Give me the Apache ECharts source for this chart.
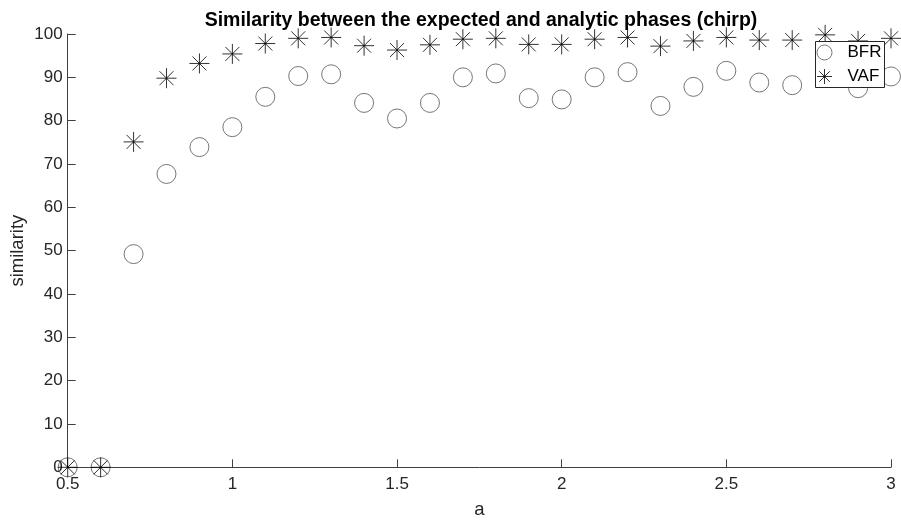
<!DOCTYPE html>
<html>
<head>
<meta charset="utf-8">
<script src="https://cdn.jsdelivr.net/npm/echarts@6/dist/echarts.min.js"></script>
<style>
  html, body { margin: 0; padding: 0; background: #fff; }
  #chart { width: 901px; height: 523px; }
</style>
</head>
<body>
<div id="chart"></div>
<script>
var aValues = [0.5, 0.6, 0.7, 0.8, 0.9, 1.0, 1.1, 1.2, 1.3, 1.4, 1.5, 1.6, 1.7,
               1.8, 1.9, 2.0, 2.1, 2.2, 2.3, 2.4, 2.5, 2.6, 2.7, 2.8, 2.9, 3.0];
var bfr = [0, 0, 49.2, 67.7, 73.9, 78.5, 85.5, 90.3, 90.7, 84.1, 80.5, 84.1, 90.0,
           90.9, 85.2, 84.9, 90.0, 91.2, 83.4, 87.8, 91.5, 88.8, 88.2, 90.0, 87.5, 90.2];
var vaf = [0, 0, 75.1, 89.8, 93.2, 95.4, 97.8, 99.0, 99.2, 97.3, 96.3, 97.5, 98.8,
           99.0, 97.6, 97.6, 98.8, 99.2, 97.2, 98.4, 99.2, 98.6, 98.6, 99.8, 98.4, 99.0];

var starPath = 'path://M0,-10L0,10M-10,0L10,0M-7,-7L7,7M-7,7L7,-7';

function pairs(xs, ys) {
    var out = [];
    for (var i = 0; i < xs.length; i++) {
        out.push([xs[i], ys[i]]);
    }
    return out;
}

var axisColor = '#404040';
var font = 'Liberation Sans, Arial, Helvetica, sans-serif';

var option = {
    animation: false,
    backgroundColor: '#fff',
    title: {
        text: 'Similarity between the expected and analytic phases (chirp)',
        left: 476,
        textAlign: 'center',
        top: 6,
        textStyle: {
            fontFamily: font,
            fontSize: 19.5,
            fontWeight: 'bold',
            color: '#000'
        }
    },
    legend: {
        orient: 'vertical',
        left: 815.5,
        top: 41.5,
        padding: [1, 3, 1, 1],
        itemGap: 4,
        itemWidth: 16,
        itemHeight: 15,
        borderColor: '#262626',
        borderWidth: 1,
        borderRadius: 0,
        backgroundColor: '#fff',
        itemStyle: { borderWidth: 1 },
        textStyle: {
            fontFamily: font,
            fontSize: 17,
            lineHeight: 20,
            color: '#000',
            padding: [0, 0, 0, 10]
        },
        data: ['BFR', 'VAF']
    },
    grid: {
        left: 67.7,
        right: 10,
        top: 34,
        bottom: 55.7,
        containLabel: false,
        outerBoundsMode: 'none'
    },
    xAxis: {
        type: 'value',
        min: 0.5,
        max: 3,
        interval: 0.5,
        name: 'a',
        nameLocation: 'middle',
        nameGap: 33,
        nameMoveOverlap: false,
        nameTextStyle: { fontFamily: font, fontSize: 18.5, color: '#262626' },
        axisLine: { lineStyle: { color: axisColor, width: 1 } },
        axisTick: { inside: true, length: 8, lineStyle: { color: axisColor } },
        axisLabel: { fontFamily: font, fontSize: 17, color: '#262626', margin: 9 },
        splitLine: { show: false }
    },
    yAxis: {
        type: 'value',
        min: 0,
        max: 100,
        interval: 10,
        name: 'similarity',
        nameLocation: 'middle',
        nameGap: 40,
        nameMoveOverlap: false,
        nameTextStyle: { fontFamily: font, fontSize: 18.5, color: '#262626' },
        axisLine: { show: true, lineStyle: { color: axisColor, width: 1 } },
        axisTick: { show: true, inside: true, length: 8, lineStyle: { color: axisColor } },
        axisLabel: { fontFamily: font, fontSize: 17, color: '#262626', margin: 5 },
        splitLine: { show: false }
    },
    series: [
        {
            name: 'BFR',
            type: 'scatter',
            symbol: 'circle',
            symbolSize: 19,
            itemStyle: {
                color: 'rgba(255,255,255,0)',
                borderColor: '#555',
                borderWidth: 1
            },
            data: pairs(aValues, bfr)
        },
        {
            name: 'VAF',
            type: 'scatter',
            symbol: starPath,
            symbolSize: 20,
            itemStyle: {
                color: 'rgba(0,0,0,0)',
                borderColor: '#000',
                borderWidth: 1
            },
            data: pairs(aValues, vaf)
        }
    ]
};

var myChart = echarts.init(document.getElementById('chart'));
myChart.setOption(option);
</script>
</body>
</html>
